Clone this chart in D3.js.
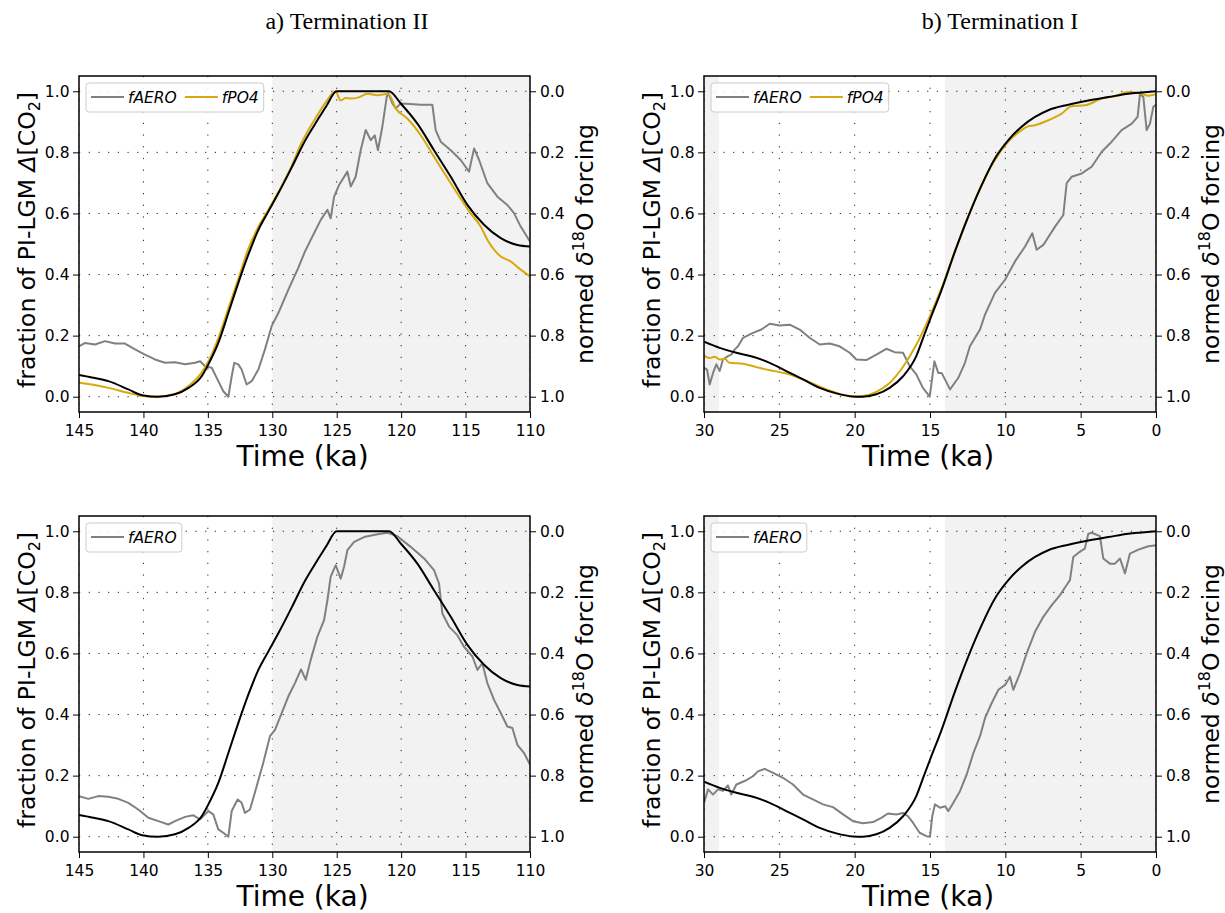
<!DOCTYPE html>
<html>
<head>
<meta charset="utf-8">
<script src="https://cdn.jsdelivr.net/npm/d3@7"></script>
<style>
  body { margin: 0; background: #fff; }
  text { font-family: "DejaVu Sans", sans-serif; }
</style>
</head>
<body>
<svg id="fig" width="1225" height="913"></svg>
<script>
// ---- data: [age (ka), value] ----
var t2Ticks = [145, 140, 135, 130, 125, 120, 115, 110];
var t1Ticks = [30, 25, 20, 15, 10, 5, 0];
var yTicks = [0, 0.2, 0.4, 0.6, 0.8, 1.0];

// normed d18O forcing, Termination II
var t2Forcing = [[145,0.071],[144,0.063],[142.72,0.051],[141.17,0.024],[140.1,0.005],[138.84,0],[137.55,0.008],[136.5,0.029],[135.48,0.067],[134.96,0.106],[134.19,0.176],[133.41,0.274],[132.64,0.372],[131.86,0.465],[131.08,0.546],[130.31,0.606],[129.53,0.666],[128.5,0.75],[127.5,0.835],[126.5,0.905],[125.8,0.952],[125,1.0],[120.94,1.0],[120.03,0.96],[118.74,0.894],[117.45,0.807],[116.15,0.72],[114.86,0.628],[113.57,0.563],[112.27,0.519],[110.98,0.497],[110,0.492]];

var t2PO4 = [[145,0.046],[144,0.04],[142.7,0.029],[141.2,0.013],[140,0.002],[139,0],[137.5,0.01],[136.5,0.035],[135.5,0.078],[134.9,0.12],[134.2,0.19],[133.4,0.29],[132.6,0.39],[131.9,0.48],[131.1,0.555],[130.3,0.612],[129.5,0.672],[128.5,0.755],[127.8,0.825],[126.5,0.922],[125.8,0.967],[125.1,1.0],[124.69,0.97],[124.3,0.978],[123.9,0.976],[123.3,0.98],[122.6,0.992],[121.84,0.987],[121.0,0.992],[120.42,0.944],[119.5,0.91],[118.48,0.856],[117.45,0.786],[116.15,0.699],[114.6,0.6],[113.83,0.557],[113.31,0.514],[112.27,0.459],[111.5,0.443],[110.72,0.416],[110,0.394]];

var t2AeroTop = [[145,0.165],[144.53,0.176],[143.76,0.171],[142.98,0.182],[142.2,0.174],[141.43,0.174],[140.65,0.155],[139.88,0.138],[139.1,0.122],[138.33,0.111],[137.55,0.113],[136.77,0.106],[136.0,0.111],[135.6,0.116],[135.22,0.1],[134.7,0.095],[134.19,0.051],[133.8,0.018],[133.41,0.0],[133.15,0.067],[132.95,0.111],[132.64,0.106],[132.38,0.089],[131.99,0.04],[131.6,0.051],[131.08,0.089],[130.57,0.155],[130.05,0.231],[129.53,0.274],[128.76,0.35],[128.0,0.42],[127.46,0.476],[126.76,0.535],[126.24,0.579],[125.72,0.612],[125.47,0.584],[125.2,0.655],[124.82,0.693],[124.17,0.737],[123.91,0.688],[123.53,0.72],[123.14,0.807],[122.75,0.873],[122.36,0.84],[122.05,0.856],[121.8,0.807],[121.46,0.884],[121.12,0.981],[121.0,0.995],[120.68,0.96],[120.42,0.944],[120.03,0.96],[119.3,0.958],[118.48,0.956],[117.58,0.956],[117.32,0.873],[116.93,0.835],[116.15,0.807],[115.38,0.775],[114.73,0.737],[114.34,0.813],[113.95,0.775],[113.31,0.699],[112.53,0.655],[111.76,0.628],[111.24,0.601],[110.72,0.557],[110,0.508]];

var t2AeroBottom = [[145,0.133],[144.28,0.124],[143.5,0.133],[142.72,0.131],[141.95,0.124],[141.17,0.111],[140.4,0.089],[139.62,0.062],[138.84,0.051],[138.07,0.04],[137.55,0.051],[136.77,0.065],[136.13,0.07],[135.6,0.057],[134.96,0.084],[134.58,0.073],[134.19,0.024],[133.8,0.013],[133.41,0],[133.15,0.084],[132.69,0.122],[132.38,0.111],[132.12,0.078],[131.73,0.089],[131.21,0.165],[130.7,0.242],[130.18,0.329],[129.79,0.35],[129.27,0.405],[128.76,0.459],[128.24,0.503],[127.77,0.548],[127.4,0.514],[127.02,0.579],[126.5,0.655],[125.98,0.709],[125.72,0.775],[125.47,0.851],[125.08,0.889],[124.69,0.845],[124.43,0.884],[124.17,0.938],[123.65,0.965],[122.88,0.981],[121.84,0.99],[121.07,0.995],[120.29,0.984],[119.26,0.949],[118.22,0.911],[117.45,0.873],[117.06,0.829],[116.8,0.731],[116.28,0.688],[115.64,0.66],[115.12,0.622],[114.47,0.59],[114.08,0.546],[113.7,0.568],[113.31,0.503],[112.79,0.448],[112.27,0.405],[111.76,0.361],[111.37,0.356],[110.98,0.301],[110.46,0.274],[110,0.236]];

// normed d18O forcing, Termination I
var t1Forcing = [[30,0.18],[28.96,0.16],[27.85,0.144],[26.75,0.131],[25.64,0.111],[24.54,0.084],[23.43,0.057],[22.32,0.029],[21.22,0.011],[20.11,0.001],[19.45,0],[18.56,0.008],[17.68,0.029],[16.79,0.067],[15.91,0.133],[15.4,0.2],[15,0.252],[14.23,0.35],[13.34,0.476],[12.46,0.59],[11.57,0.693],[10.69,0.78],[9.8,0.84],[8.92,0.884],[8.03,0.916],[7.15,0.938],[5.82,0.956],[4.49,0.97],[3.16,0.981],[1.84,0.992],[0.95,0.996],[0,1.0]];

var t1PO4 = [[30,0.135],[29.62,0.127],[29.29,0.131],[28.96,0.122],[28.63,0.124],[28.3,0.111],[27.41,0.108],[26.53,0.097],[25.64,0.087],[24.54,0.076],[23.43,0.057],[22.32,0.033],[21.22,0.013],[20.11,0],[19.45,0.002],[18.56,0.016],[17.68,0.045],[16.79,0.098],[15.91,0.17],[15,0.265],[14.23,0.356],[13.34,0.478],[12.46,0.591],[11.57,0.693],[10.69,0.775],[9.8,0.835],[8.92,0.873],[8.5,0.885],[8.03,0.889],[7.15,0.905],[6.26,0.927],[5.6,0.951],[4.71,0.954],[3.6,0.976],[2.72,0.984],[1.84,0.998],[0.95,0.992],[0.51,0.985],[0,0.99]];

var t1AeroTop = [[30,0.095],[29.8,0.089],[29.62,0.04],[29.4,0.078],[29.18,0.106],[28.96,0.084],[28.74,0.122],[28.41,0.133],[28.19,0.138],[27.96,0.155],[27.74,0.165],[27.41,0.193],[26.75,0.209],[26.19,0.22],[25.64,0.239],[24.98,0.233],[24.31,0.236],[23.65,0.22],[22.99,0.193],[22.32,0.171],[21.66,0.174],[21.0,0.165],[20.33,0.144],[19.89,0.122],[19.23,0.12],[18.56,0.138],[17.9,0.157],[17.35,0.146],[16.79,0.144],[16.35,0.1],[15.91,0.073],[15.47,0.029],[15.02,0],[14.71,0.116],[14.45,0.078],[14.23,0.078],[13.67,0.024],[13.12,0.062],[12.68,0.111],[12.35,0.165],[11.68,0.22],[11.35,0.269],[10.69,0.34],[10.02,0.383],[9.36,0.443],[8.69,0.492],[8.21,0.535],[7.92,0.481],[7.48,0.497],[6.7,0.557],[6.15,0.595],[5.93,0.699],[5.6,0.72],[4.93,0.731],[4.27,0.753],[3.6,0.802],[2.94,0.835],[2.28,0.873],[1.61,0.894],[1.22,0.916],[1.06,0.992],[0.84,0.981],[0.62,0.873],[0.4,0.894],[0.18,0.949],[0,0.956]];

var t1AeroBottom = [[30,0.111],[29.73,0.155],[29.4,0.138],[29.07,0.155],[28.74,0.15],[28.41,0.168],[28.19,0.138],[27.85,0.171],[27.19,0.185],[26.75,0.198],[26.42,0.214],[25.97,0.222],[25.42,0.209],[24.76,0.193],[24.09,0.171],[23.43,0.138],[22.77,0.122],[22.1,0.106],[21.44,0.097],[20.77,0.073],[20.11,0.051],[19.45,0.044],[18.78,0.048],[18.23,0.062],[17.79,0.076],[17.24,0.073],[16.79,0.078],[16.46,0.067],[16.13,0.046],[15.69,0.013],[15.24,0.002],[15,0],[14.85,0.067],[14.67,0.106],[14.34,0.095],[14.0,0.1],[13.78,0.084],[13.45,0.111],[13.01,0.149],[12.57,0.203],[12.12,0.274],[11.68,0.329],[11.35,0.388],[10.91,0.437],[10.46,0.481],[10.02,0.497],[9.69,0.524],[9.47,0.481],[9.03,0.535],[8.58,0.601],[8.03,0.671],[7.48,0.72],[6.92,0.758],[6.37,0.791],[5.93,0.824],[5.71,0.84],[5.49,0.916],[5.06,0.933],[4.73,0.943],[4.49,0.992],[4.27,0.995],[3.72,0.984],[3.5,0.911],[3.06,0.894],[2.72,0.894],[2.39,0.911],[2.06,0.862],[1.73,0.927],[1.17,0.94],[0.51,0.951],[0,0.954]];

// shaded intervals (ka)
var t2Shade = [[130, 110]];
var t1Shade = [[30, 29], [14, 0]];

var GREY = "#808080", GOLD = "#d8a80c", BLACK = "#000";

var svg = d3.select("#fig");

// titles
svg.append("text").attr("x", 347).attr("y", 29).attr("text-anchor", "middle")
    .style("font-family", "'Liberation Serif', 'Times New Roman', serif").style("font-size", "24px")
    .text("a) Termination II");
svg.append("text").attr("x", 1000).attr("y", 29).attr("text-anchor", "middle")
    .style("font-family", "'Liberation Serif', 'Times New Roman', serif").style("font-size", "24px")
    .text("b) Termination I");

var panels = [
    {id: "a1", left: 79, right: 530, top: 76, bottom: 412, dom: [145, 110], ticks: t2Ticks, shade: t2Shade,
     series: [{d: t2AeroTop, c: GREY, name: "fAERO"}, {d: t2PO4, c: GOLD, name: "fPO4"}, {d: t2Forcing, c: BLACK}]},
    {id: "b1", left: 704, right: 1156, top: 76, bottom: 412, dom: [30, 0], ticks: t1Ticks, shade: t1Shade,
     series: [{d: t1AeroTop, c: GREY, name: "fAERO"}, {d: t1PO4, c: GOLD, name: "fPO4"}, {d: t1Forcing, c: BLACK}]},
    {id: "a2", left: 79, right: 530, top: 516, bottom: 852, dom: [145, 110], ticks: t2Ticks, shade: t2Shade,
     series: [{d: t2AeroBottom, c: GREY, name: "fAERO"}, {d: t2Forcing, c: BLACK}]},
    {id: "b2", left: 704, right: 1156, top: 516, bottom: 852, dom: [30, 0], ticks: t1Ticks, shade: t1Shade,
     series: [{d: t1AeroBottom, c: GREY, name: "fAERO"}, {d: t1Forcing, c: BLACK}]}
];

panels.forEach(function (p) {
    var x = d3.scaleLinear().domain(p.dom).range([p.left, p.right]);
    var y = d3.scaleLinear().domain([-0.05, 1.05]).range([p.bottom, p.top]);
    var yr = d3.scaleLinear().domain([1.05, -0.05]).range([p.bottom, p.top]);
    var g = svg.append("g");

    g.append("clipPath").attr("id", "clip-" + p.id).append("rect")
        .attr("x", p.left).attr("y", p.top).attr("width", p.right - p.left).attr("height", p.bottom - p.top);

    var inner = g.append("g").attr("clip-path", "url(#clip-" + p.id + ")");

    // shading
    inner.selectAll(".shade").data(p.shade).enter().append("rect")
        .attr("x", function (d) { return x(d[0]); })
        .attr("width", function (d) { return x(d[1]) - x(d[0]); })
        .attr("y", p.top).attr("height", p.bottom - p.top)
        .attr("fill", "#f2f2f2");

    // grid
    inner.selectAll(".vg").data(p.ticks).enter().append("line")
        .attr("x1", function (d) { return x(d); }).attr("x2", function (d) { return x(d); })
        .attr("y1", p.top).attr("y2", p.bottom)
        .attr("stroke", "#222").attr("stroke-width", 1).attr("stroke-dasharray", "1.2,10.5");
    inner.selectAll(".hg").data(yTicks).enter().append("line")
        .attr("y1", function (d) { return y(d); }).attr("y2", function (d) { return y(d); })
        .attr("x1", p.left).attr("x2", p.right)
        .attr("stroke", "#222").attr("stroke-width", 1).attr("stroke-dasharray", "1.2,8.5");

    // lines
    p.series.forEach(function (s) {
        var line = d3.line()
            .x(function (d) { return x(d[0]); })
            .y(function (d) { return y(d[1]); })
            .curve(s.c === GREY ? d3.curveLinear : d3.curveMonotoneX);
        inner.append("path").datum(s.d)
            .attr("d", line)
            .attr("fill", "none").attr("stroke", s.c)
            .attr("stroke-width", 2).attr("stroke-linejoin", "round");
    });

    // axes
    var xAxis = d3.axisBottom(x).tickValues(p.ticks).tickSize(6).tickPadding(7).tickFormat(d3.format("d"));
    var yAxis = d3.axisLeft(y).tickValues(yTicks).tickSize(6).tickPadding(3.5).tickFormat(d3.format(".1f"));
    var yAxisR = d3.axisRight(yr).tickValues(yTicks).tickSize(6).tickPadding(4).tickFormat(d3.format(".1f"));
    [
        g.append("g").attr("transform", "translate(0," + p.bottom + ")").call(xAxis),
        g.append("g").attr("transform", "translate(" + p.left + ",0)").call(yAxis),
        g.append("g").attr("transform", "translate(" + p.right + ",0)").call(yAxisR)
    ].forEach(function (ax) {
        ax.select(".domain").remove();
        ax.selectAll(".tick line").attr("stroke", "#000").attr("stroke-width", 1);
        ax.selectAll(".tick text").style("font-family", "'DejaVu Sans', sans-serif").style("font-size", "15.5px").attr("fill", "#000");
    });

    // frame
    g.append("rect").attr("x", p.left).attr("y", p.top)
        .attr("width", p.right - p.left).attr("height", p.bottom - p.top)
        .attr("fill", "none").attr("stroke", "#000").attr("stroke-width", 1.5);

    // axis labels
    g.append("text").attr("x", (p.left + p.right) / 2 - 2).attr("y", p.bottom + 54)
        .attr("text-anchor", "middle").style("font-size", "28px").text("Time (ka)");

    var ly = g.append("text").attr("text-anchor", "middle").style("font-size", "23.5px")
        .attr("transform", "translate(" + (p.left - 44) + "," + ((p.top + p.bottom) / 2 - 4) + ") rotate(-90)");
    ly.append("tspan").text("fraction of PI-LGM ");
    ly.append("tspan").style("font-style", "italic").text("\u0394");
    ly.append("tspan").text("[CO");
    ly.append("tspan").attr("dy", 5).style("font-size", "16px").text("2");
    ly.append("tspan").attr("dy", -5).text("]");

    var ry = g.append("text").attr("text-anchor", "middle").style("font-size", "23.5px")
        .attr("transform", "translate(" + (p.right + 63) + "," + ((p.top + p.bottom) / 2) + ") rotate(-90)");
    ry.append("tspan").text("normed ");
    ry.append("tspan").style("font-style", "italic").text("\u03b4");
    ry.append("tspan").attr("dy", -9).style("font-size", "16px").text("18");
    ry.append("tspan").attr("dy", 9).text("O forcing");

    // legend
    var named = p.series.filter(function (s) { return s.name; });
    var lg = g.append("g").attr("transform", "translate(" + (p.left + 7) + "," + (p.top + 7) + ")");
    var box = lg.append("rect").attr("rx", 3).attr("ry", 3)
        .attr("fill", "#fff").attr("fill-opacity", 0.85).attr("stroke", "#ccc").attr("stroke-width", 1);
    var cx = 5;
    named.forEach(function (s, i) {
        lg.append("line").attr("x1", cx).attr("x2", cx + 33).attr("y1", 14).attr("y2", 14)
            .attr("stroke", s.c).attr("stroke-width", 2);
        var t = lg.append("text").attr("x", cx + 37).attr("y", 19.5)
            .style("font-size", "15.5px").style("font-style", "italic").text(s.name);
        cx += 37 + t.node().getComputedTextLength() + (i < named.length - 1 ? 8 : 5);
    });
    box.attr("x", 0).attr("y", 0).attr("width", cx).attr("height", 29);
});
</script>
</body>
</html>
